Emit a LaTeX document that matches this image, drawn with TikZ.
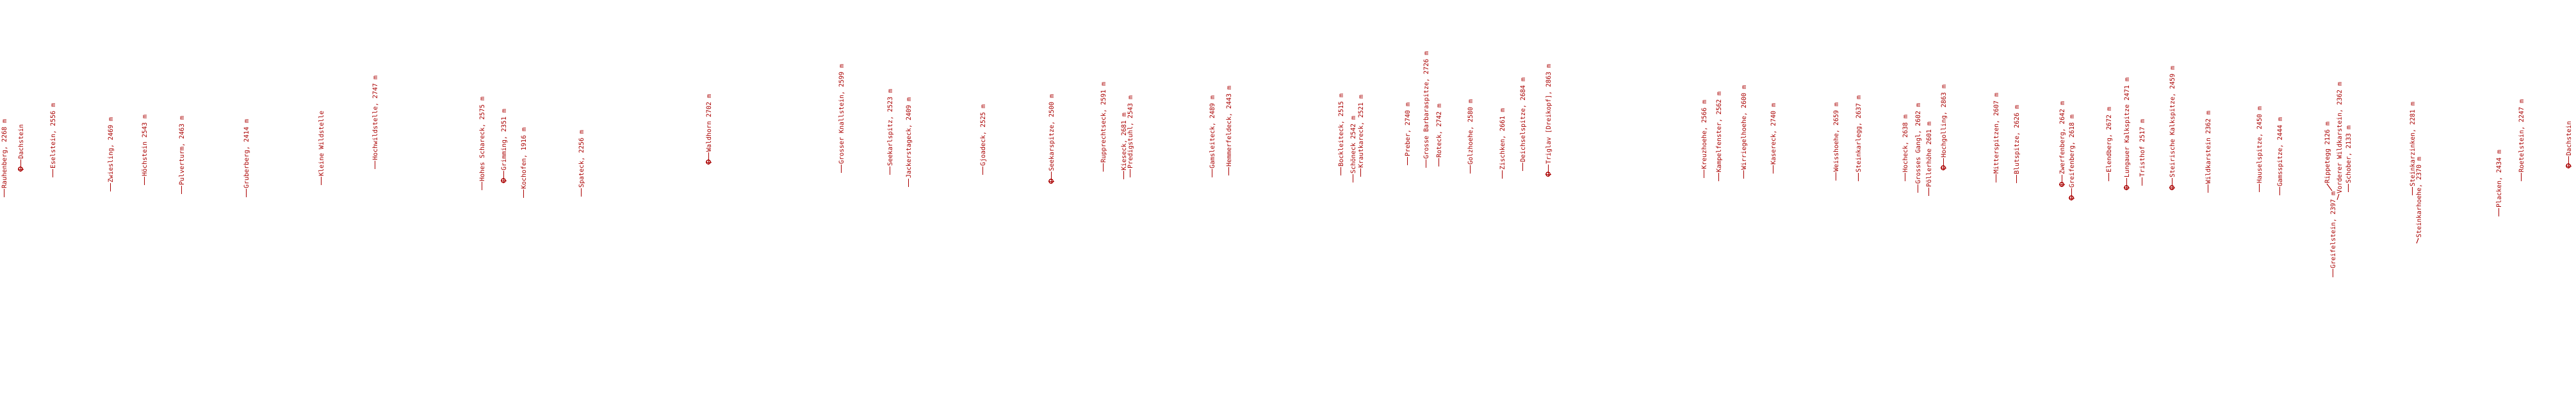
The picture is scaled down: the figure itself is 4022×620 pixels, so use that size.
\documentclass[tikz,border=0pt]{standalone}
\usepackage{fontspec}
\newfontfamily\pkfont{DejaVu Sans Mono}
\definecolor{pkred}{RGB}{170,0,0}
\tikzset{
  lbl/.style={rotate=90, anchor=base west, inner sep=0pt, outer sep=0pt, text=pkred, font=\pkfont\fontsize{10}{12}\selectfont},
  lead/.style={draw=pkred, line width=1pt},
  mark/.style={}
}
% plain label: name, x, y(bottom of dash, from top), text
\newcommand\pk[4]{%
  \coordinate (#1b) at (#2,620-#3);
  \coordinate (#1t) at (#2,620-#3+13);
  \node[lbl] (#1) at (#2+4,620-#3+13) {#4};
  \draw[lead] (#1b) -- (#1t);}
% marked label: name, x, y(center of marker), text
\newcommand\pkm[4]{%
  \coordinate (#1c) at (#2,620-#3);
  \coordinate (#1b) at (#2,620-#3+4);
  \coordinate (#1t) at (#2,620-#3+15);
  \node[lbl] (#1) at (#2+4,620-#3+15) {#4};
  \draw[lead] (#1b) -- (#1t);
  \draw[pkred, line width=1.3pt] (#1c) circle[radius=3.3pt];
  \draw[pkred, line width=0.8pt] ($(#1c)+(-4.5,0)$) -- ($(#1c)+(4.5,0)$)
     ($(#1c)+(0,-4.5)$) -- ($(#1c)+(0,4.5)$);}
\usetikzlibrary{calc}
\begin{document}
\begin{tikzpicture}[x=1pt,y=1pt]
\fill[white] (0,0) rectangle (4022,620);
\useasboundingbox (0,0) rectangle (4022,620);
\pk{a1}{6}{308}{Rauhenberg, 2268 m}
\pkm{a2}{32}{264}{Dachstein}
\pk{a3}{82}{277}{Eselstein, 2556 m}
\pk{a4}{172}{299}{Zwiesling, 2469 m}
\pk{a5}{225}{289}{Höchstein 2543 m}
\pk{a6}{283}{303}{Pulverturm, 2463 m}
\pk{a7}{384}{308}{Gruberberg, 2414 m}
\pk{a8}{501}{289}{Kleine Wildstelle}
\pk{a9}{585}{264}{Hochwildstelle, 2747 m}
\pk{b1}{752}{297}{Hohes Schareck, 2575 m}
\pkm{b2}{786}{282}{Grimming, 2351 m}
\pk{b3}{817}{309}{Kochofen, 1916 m}
\pk{b4}{907}{307}{Spateck, 2256 m}
\pkm{b5}{1106}{253}{Waldhorn 2702 m}
\pk{b6}{1313}{270}{Grosser Knallstein, 2599 m}
\pk{b7}{1389}{273}{Seekarlspitz, 2523 m}
\pk{b8}{1418}{292}{Jackerstageck, 2409 m}
\pk{b9}{1534}{273}{Gjoadeck, 2525 m}
\pkm{c1}{1641}{283}{Seekarspitze, 2500 m}
\pk{c2}{1722}{268}{Rupprechtseck, 2591 m}
\pk{c3}{1754}{280}{Kieseck, 2681 m}
\pk{c4}{1764}{277}{Predigstuhl, 2543 m}
\pk{c5}{1892}{277}{Gamsleiteck, 2489 m}
\pk{c6}{1918}{274}{Hemmerfeldeck, 2443 m}
\pk{c7}{2093}{274}{Bockleiteck, 2515 m}
\pk{c8}{2112}{285}{Schöneck 2542 m}
\pk{c9}{2124}{276}{Krautkareck, 2521 m}
\pk{d1}{2197}{258}{Preber, 2740 m}
\pk{d2}{2226}{262}{Grosse Barbaraspitze, 2726 m}
\pk{d3}{2246}{260}{Roteck, 2742 m}
\pk{d4}{2295}{271}{Golzhoehe, 2580 m}
\pk{d5}{2345}{279}{Zischken, 2661 m}
\pk{d6}{2377}{267}{Deichselspitze, 2684 m}
\pkm{d7}{2417}{272}{Triglav [Dreikopf], 2863 m}
\pk{d8}{2660}{278}{Kreuzhoehe, 2566 m}
\pk{d9}{2683}{283}{Kampelfenster, 2562 m}
\pk{e1}{2722}{279}{Wirriegelhoehe, 2600 m}
\pk{e2}{2768}{271}{Kasereck, 2740 m}
\pk{e3}{2866}{282}{Weisshoehe, 2659 m}
\pk{e4}{2901}{283}{Steinkarlegg, 2637 m}
\pk{e5}{2974}{283}{Hocheck, 2638 m}
\pk{e6}{2994}{301}{Grosses Gangl, 2602 m}
\pk{e7}{3011}{306}{Pöllerhöhe 2601 m}
\pkm{e8}{3034}{262}{Hochgolling, 2863 m}
\pk{e9}{3116}{285}{Mitterspitzen, 2607 m}
\pk{f1}{3148}{286}{Blutspitze, 2626 m}
\pkm{f2}{3219}{288}{Zwerfenberg, 2642 m}
\pkm{f3}{3234}{309}{Greifenberg, 2618 m}
\pk{f4}{3292}{283}{Elendberg, 2672 m}
\pkm{f5}{3320}{293}{Lungauer Kalkspitze 2471 m}
\pk{f6}{3344}{290}{Tristhof 2517 m}
\pkm{f7}{3391}{293}{Steirische Kalkspitze, 2459 m}
\pk{f8}{3447}{301}{Wildkarstein 2362 m}
\pk{f9}{3527}{300}{Hauselspitze, 2450 m}
\pk{g1}{3559}{305}{Gamsspitze, 2444 m}
% slanted leaders
\coordinate (g2b) at (3641,620-298);
\coordinate (g2t) at (3633,620-287);
\node[lbl] (g2) at (3637,620-287) {Rippetegg 2126 m};
\draw[lead] (g2b) -- (g2t);
\pk{g3}{3642}{433}{Greifelstein, 2397 m}
\coordinate (g4b) at (3649,620-312);
\coordinate (g4t) at (3652,620-303);
\node[lbl] (g4) at (3656,620-303) {Vorderer Wildkarstein, 2362 m};
\draw[lead] (g4b) -- (g4t);
\pk{g5}{3666}{300}{Schober, 2133 m}
\pk{g6}{3766}{305}{Steinkarzinken, 2281 m}
\coordinate (g7b) at (3773,620-380);
\coordinate (g7t) at (3776,620-372);
\node[lbl] (g7) at (3780,620-372) {Steinkarhoehe, 2370 m};
\draw[lead] (g7b) -- (g7t);
\pk{g8}{3901}{338}{Placken, 2434 m}
\pk{g9}{3936}{283}{Roetelstein, 2247 m}
\pkm{h1}{4010}{259}{Dachstein}
\end{tikzpicture}
\end{document}
